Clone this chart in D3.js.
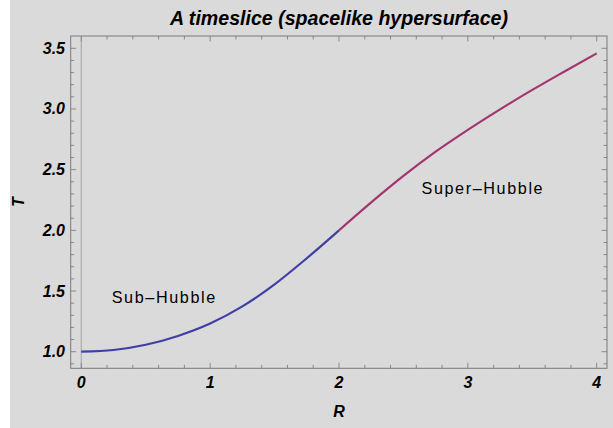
<!DOCTYPE html>
<html>
<head>
<meta charset="utf-8">
<script src="https://cdn.jsdelivr.net/npm/d3@7.9.0/dist/d3.min.js"></script>
<style>
  html, body { margin: 0; padding: 0; background: #fff; }
  svg { display: block; }
  .lbl { font-family: "Liberation Sans", Arial, sans-serif; font-weight: bold; font-style: italic; fill: #000; }
  .note { font-family: "Liberation Sans", Arial, sans-serif; fill: #000; }
</style>
</head>
<body>
<svg id="chart" width="613" height="428"></svg>
<script>
// curve: R -> T
const subR = [0, 0.25, 0.5, 0.75, 1, 1.25, 1.5, 1.75, 2];
const subT = [1.000, 1.014, 1.057, 1.130, 1.232, 1.373, 1.555, 1.770, 2.000];
const superR = [2, 2.25, 2.5, 2.75, 3, 3.25, 3.5, 3.75, 4];
const superT = [2.000, 2.230, 2.448, 2.648, 2.828, 2.997, 3.157, 3.309, 3.458];

const xTicks = [0, 1, 2, 3, 4];
const yTicks = [1.0, 1.5, 2.0, 2.5, 3.0, 3.5];

const W = 613, H = 428;
const frameL = 70.7, frameR = 607, frameT = 36, frameB = 368.3;

const svg = d3.select('#chart');

svg.append('rect')
  .attr('x', 10).attr('y', 0)
  .attr('width', W - 10).attr('height', H)
  .attr('fill', '#dadada');

const x = d3.scaleLinear().domain([0, 4]).range([81.3, 596.7]);
const y = d3.scaleLinear().domain([1, 3.5]).range([351.7, 48.3]);

// axis line at R = 0
svg.append('line')
  .attr('x1', x(0)).attr('x2', x(0))
  .attr('y1', frameT).attr('y2', frameB)
  .attr('stroke', '#b4b4b4').attr('stroke-width', 1.5);

// ticks (inside, all four sides)
const xMinor = d3.range(0, 4.01, 0.2).map(v => +v.toFixed(2));
const yMinor = d3.range(0.9, 3.61, 0.1).map(v => +v.toFixed(2)).filter(v => y(v) > frameT + 1 && y(v) < frameB - 1);
const isMajor = (v, list) => list.some(t => Math.abs(t - v) < 1e-6);

const ticks = svg.append('g').attr('stroke', '#8a8a8a').attr('stroke-width', 1);
xMinor.forEach(v => {
  const len = isMajor(v, xTicks) ? 5.5 : 3.5;
  ticks.append('line').attr('x1', x(v)).attr('x2', x(v)).attr('y1', frameB).attr('y2', frameB - len);
  ticks.append('line').attr('x1', x(v)).attr('x2', x(v)).attr('y1', frameT).attr('y2', frameT + len);
});
yMinor.forEach(v => {
  const len = isMajor(v, yTicks) ? 5.5 : 3.5;
  ticks.append('line').attr('x1', frameL).attr('x2', frameL + len).attr('y1', y(v)).attr('y2', y(v));
  ticks.append('line').attr('x1', frameR).attr('x2', frameR - len).attr('y1', y(v)).attr('y2', y(v));
});

// frame
svg.append('rect')
  .attr('x', frameL).attr('y', frameT)
  .attr('width', frameR - frameL).attr('height', frameB - frameT)
  .attr('fill', 'none').attr('stroke', '#7a7a7a').attr('stroke-width', 1);

// tick labels
svg.selectAll('.xt').data(xTicks).enter().append('text')
  .attr('class', 'lbl xt')
  .attr('x', d => x(d)).attr('y', 388)
  .attr('text-anchor', 'middle')
  .style('font-size', '16px')
  .text(d => d3.format('d')(d));

svg.selectAll('.yt').data(yTicks).enter().append('text')
  .attr('class', 'lbl yt')
  .attr('x', 65).attr('y', d => y(d) + 5.5)
  .attr('text-anchor', 'end')
  .style('font-size', '16px')
  .text(d => d3.format('.1f')(d));

// curve
const line = d3.line()
  .x(d => x(d[0]))
  .y(d => y(d[1]))
  .curve(d3.curveMonotoneX);

svg.append('path')
  .datum(subR.map((r, i) => [r, subT[i]]))
  .attr('d', line)
  .attr('fill', 'none').attr('stroke', '#3f3fa6').attr('stroke-width', 2.2);

svg.append('path')
  .datum(superR.map((r, i) => [r, superT[i]]))
  .attr('d', line)
  .attr('fill', 'none').attr('stroke', '#a3356f').attr('stroke-width', 2.2);

// annotations
svg.append('text').attr('class', 'note')
  .attr('x', 111.7).attr('y', 303)
  .style('font-size', '16.2px').style('letter-spacing', '1.6px')
  .text('Sub–Hubble');

svg.append('text').attr('class', 'note')
  .attr('x', 421.5).attr('y', 194)
  .style('font-size', '16.2px').style('letter-spacing', '1.6px')
  .text('Super–Hubble');

// title and axis labels
svg.append('text').attr('class', 'lbl')
  .attr('x', 339).attr('y', 25)
  .attr('text-anchor', 'middle')
  .style('font-size', '19.6px')
  .text('A timeslice (spacelike hypersurface)');

svg.append('text').attr('class', 'lbl')
  .attr('x', 339).attr('y', 417)
  .attr('text-anchor', 'middle')
  .style('font-size', '16px')
  .text('R');

svg.append('text').attr('class', 'lbl')
  .attr('transform', 'translate(24,202) rotate(-90)')
  .attr('text-anchor', 'middle')
  .style('font-size', '16px')
  .text('T');
</script>
</body>
</html>
